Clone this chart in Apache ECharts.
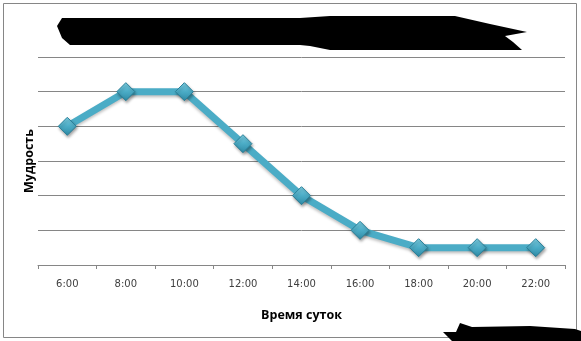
<!DOCTYPE html>
<html>
<head>
<meta charset="utf-8">
<script src="https://cdn.jsdelivr.net/npm/echarts@6/dist/echarts.min.js"></script>
<style>html,body{margin:0;padding:0;background:#fff}#c{width:581px;height:341px}</style>
</head>
<body>
<div id="c"></div>
<script>
const categories = ['6:00','8:00','10:00','12:00','14:00','16:00','18:00','20:00','22:00'];
const wisdom = [4, 5, 5, 3.5, 2, 1, 0.5, 0.5, 0.5];
const xName = 'Время суток';
const yName = 'Мудрость';

const chart = echarts.init(document.getElementById('c'), null, {renderer: 'canvas'});
chart.setOption({
  backgroundColor: '#ffffff',
  animation: false,
  grid: {left: 38, right: 16, top: 57, bottom: 76},
  xAxis: {
    type: 'category',
    data: categories,
    boundaryGap: true,
    axisLine: {lineStyle: {color: '#868686', width: 1}},
    axisTick: {show: true, length: 4, lineStyle: {color: '#868686'}},
    axisLabel: {color: '#404040', fontFamily: 'DejaVu Sans', fontSize: 10, margin: 14},
    name: xName,
    nameLocation: 'middle',
    nameGap: 44,
    nameTextStyle: {color: '#000', fontFamily: 'Open Sans', fontWeight: 'bold', fontSize: 12.5}
  },
  yAxis: {
    type: 'value',
    min: 0, max: 6, interval: 1,
    axisLine: {show: false},
    axisTick: {show: false},
    axisLabel: {show: false},
    splitLine: {lineStyle: {color: '#868686', width: 1}},
    name: yName,
    nameLocation: 'middle',
    nameGap: 2,
    nameTextStyle: {color: '#000', fontFamily: 'Open Sans', fontWeight: 'bold', fontSize: 12.5}
  },
  series: [{
    type: 'line',
    data: wisdom,
    symbol: 'diamond',
    symbolSize: 18,
    lineStyle: {color: '#4bacc6', width: 7, shadowColor: 'rgba(0,0,0,0.25)', shadowBlur: 3, shadowOffsetY: 2},
    itemStyle: {
      color: new echarts.graphic.LinearGradient(0,0,0,1,[{offset:0,color:'#7fd3e8'},{offset:0.5,color:'#4bacc6'},{offset:1,color:'#2e8aa5'}]),
      borderColor: '#2a7f98', borderWidth: 1,
      shadowColor: 'rgba(0,0,0,0.35)', shadowBlur: 3, shadowOffsetX: 1, shadowOffsetY: 2
    }
  }],
  graphic: [
    {type: 'rect', shape: {x: 3.5, y: 3.5, width: 573, height: 334}, style: {fill: 'none', stroke: '#868686', lineWidth: 1}, z: -1},
    {type: 'polygon', shape: {points: [[62,18],[300,18],[330,16],[455,16],[490,24],[527,32],[505,36],[513,42],[522,50],[330,50],[310,46],[300,45],[70,45],[62,38],[57,26]]}, style: {fill: '#000'}},
    {type: 'polygon', shape: {points: [[460,323],[472,327],[530,326],[575,329],[581,331],[581,341],[452,341],[443,332],[456,332]]}, style: {fill: '#000'}}
  ]
});
</script>
</body>
</html>
